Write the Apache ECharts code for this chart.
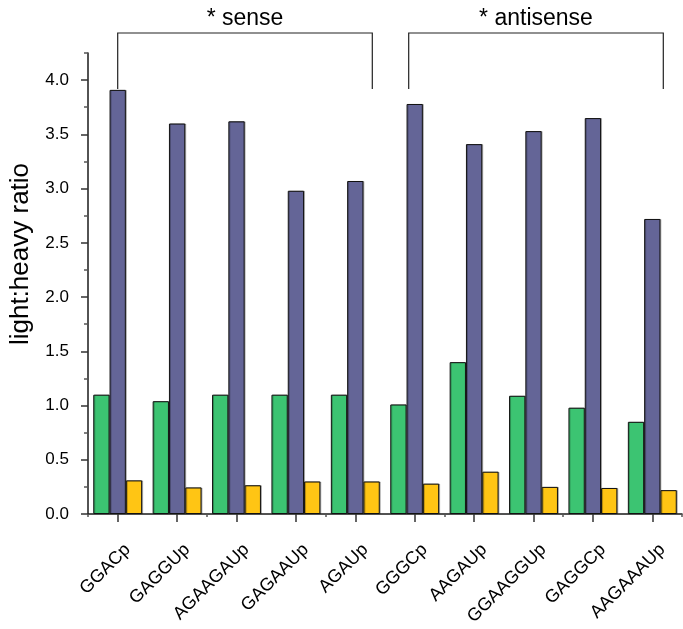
<!DOCTYPE html>
<html>
<head>
<meta charset="utf-8">
<script src="https://cdn.jsdelivr.net/npm/echarts@6/dist/echarts.min.js"></script>
<style>
html,body{margin:0;padding:0;background:#fff;}
#chart{width:683px;height:629px;}
</style>
</head>
<body>
<div id="chart"></div>
<script>
const categories = ['GGACp','GAGGUp','AGAAGAUp','GAGAAUp','AGAUp','GGGCp','AAGAUp','GGAAGGUp','GAGGCp','AAGAAAUp'];
const greenVals  = [1.10, 1.04, 1.10, 1.10, 1.10, 1.01, 1.40, 1.09, 0.98, 0.85];
const purpleVals = [3.91, 3.60, 3.62, 2.98, 3.07, 3.78, 3.41, 3.53, 3.65, 2.72];
const yellowVals = [0.31, 0.245, 0.265, 0.30, 0.30, 0.28, 0.39, 0.25, 0.24, 0.22];
const yMajorTicks = [0, 0.5, 1.0, 1.5, 2.0, 2.5, 3.0, 3.5, 4.0];
const yMinorTicks = [0.25, 0.75, 1.25, 1.75, 2.25, 2.75, 3.25, 3.75, 4.25];
const groups = [
  {label: '* sense', from: 0, to: 4, dxFrom: 0, dxTo: 17},
  {label: '* antisense', from: 5, to: 9, dxFrom: -6, dxTo: 11}
];
const yAxisName = 'light:heavy ratio';

const FONT = '"Liberation Sans", Arial, sans-serif';
const chart = echarts.init(document.getElementById('chart'), null, {renderer: 'canvas'});
const grid = {left: 88, right: 1, top: 53, bottom: 115, containLabel: false, outerBoundsMode: 'none'};
const axisLineStyle = {color: '#1a1a1a', width: 1.5};

function barSeries(name, data, color) {
  return {
    name: name, type: 'bar', data: data, xAxisIndex: 0, yAxisIndex: 0,
    barWidth: 16.3, barGap: '0%',
    itemStyle: {color: color, borderColor: '#111', borderWidth: 1,
      shadowColor: 'rgba(0,0,0,0.25)', shadowOffsetX: 1, shadowOffsetY: 0, shadowBlur: 0},
    emphasis: {disabled: true}
  };
}

chart.setOption({
  animation: false,
  grid: grid,
  xAxis: [{
    type: 'category', data: categories, position: 'bottom',
    axisLine: {show: true, lineStyle: axisLineStyle},
    axisTick: {show: true, alignWithLabel: true, length: 8, lineStyle: {color: '#333', width: 1.5}},
    axisLabel: {rotate: 45, fontSize: 18, color: '#000', fontFamily: FONT, margin: 23,
      verticalAlign: 'top', padding: [5, 0, 0, 0], interval: 0, hideOverlap: false},
    splitLine: {show: false}
  }, {
    type: 'category', data: categories, position: 'bottom',
    axisLine: {show: false},
    axisTick: {show: true, alignWithLabel: false, length: 3, lineStyle: {color: '#555', width: 1.5}},
    axisLabel: {show: false},
    splitLine: {show: false}
  }],
  yAxis: [{
    type: 'value', min: 0, max: 4.25, position: 'left',
    axisLine: {show: true, lineStyle: axisLineStyle},
    axisTick: {show: true, length: 7, customValues: yMajorTicks, lineStyle: {color: '#333', width: 1.5}},
    axisLabel: {customValues: yMajorTicks, fontSize: 17, color: '#000', fontFamily: FONT, margin: 19,
      formatter: v => v.toFixed(1)},
    splitLine: {show: false}
  }, {
    type: 'value', min: 0, max: 4.25, position: 'left',
    axisLine: {show: false},
    axisTick: {show: true, length: 4, customValues: yMinorTicks, lineStyle: {color: '#555', width: 1.5}},
    axisLabel: {show: false},
    splitLine: {show: false}
  }],
  series: [
    barSeries('green', greenVals, '#3cc472'),
    barSeries('purple', purpleVals, '#646597'),
    barSeries('yellow', yellowVals, '#ffc514')
  ]
});

const graphics = [];
const yTop = 33, yLeg = 89;
groups.forEach(g => {
  const x1 = chart.convertToPixel({xAxisIndex: 0}, categories[g.from]) + g.dxFrom;
  const x2 = chart.convertToPixel({xAxisIndex: 0}, categories[g.to]) + g.dxTo;
  graphics.push({
    type: 'polyline', silent: true,
    shape: {points: [[x1, yLeg], [x1, yTop], [x2, yTop], [x2, yLeg]]},
    style: {stroke: '#222', lineWidth: 1.2, fill: null}
  });
  graphics.push({
    type: 'text', silent: true, x: (x1 + x2) / 2, y: 19,
    style: {text: g.label, font: '23px ' + FONT, fill: '#000', align: 'center', verticalAlign: 'middle'}
  });
});
graphics.push({
  type: 'text', silent: true, x: 21, y: 254, rotation: Math.PI / 2,
  style: {text: yAxisName, font: '26px ' + FONT, fill: '#000', align: 'center', verticalAlign: 'middle'}
});
chart.setOption({graphic: graphics});
</script>
</body>
</html>
